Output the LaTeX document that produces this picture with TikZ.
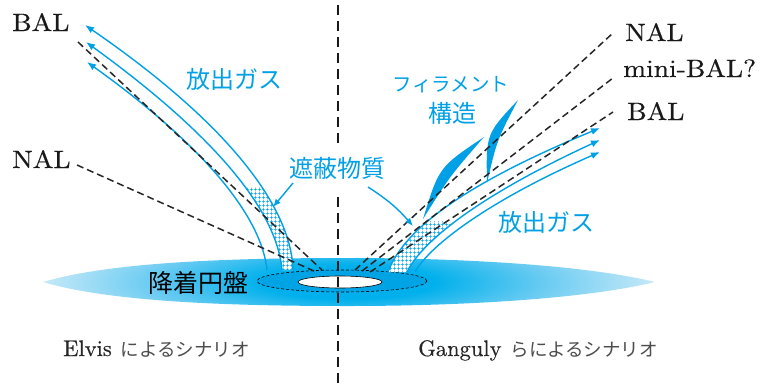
\documentclass[tikz,border=0pt]{standalone}
\usepackage{graphicx}
\usepackage{fontspec}
\newfontfamily\jp{Noto Sans CJK JP}
\newfontfamily\lmten[FakeBold=0.4]{lmroman10-regular.otf}
\usetikzlibrary{arrows.meta,patterns}

\definecolor{flowblue}{RGB}{0,160,230}
\definecolor{diskcore}{RGB}{0,176,236}
\definecolor{diskmid}{RGB}{105,203,242}
\definecolor{diskedge}{RGB}{198,233,248}
\definecolor{innerdisk}{RGB}{0,164,228}

% glow of the accretion disk, brightest near the centre
% (the path's bounding box is mapped onto the central 50bp square)
\pgfdeclareradialshading{diskglow}{\pgfpoint{0bp}{0bp}}{%
  color(0bp)=(diskcore); color(7bp)=(diskcore);
  color(16bp)=(diskmid); color(25bp)=(diskedge); color(50bp)=(diskedge)}

% square mesh for the absorbing material
\pgfdeclarepatternformonly{mesh}{\pgfpointorigin}{\pgfpoint{3.6pt}{3.6pt}}{\pgfpoint{3.6pt}{3.6pt}}{%
  \pgfsetlinewidth{0.55pt}%
  \pgfpathmoveto{\pgfpoint{0pt}{1.8pt}}\pgfpathlineto{\pgfpoint{3.6pt}{1.8pt}}%
  \pgfpathmoveto{\pgfpoint{1.8pt}{0pt}}\pgfpathlineto{\pgfpoint{1.8pt}{3.6pt}}%
  \pgfusepath{stroke}}

\begin{document}
\begin{tikzpicture}[x=1pt,y=-1pt,
  flow/.style={flowblue, line width=1.4pt, -{Latex[length=9pt,width=7pt]}},
  sight/.style={black!85, line width=1.5pt, dash pattern=on 7pt off 4pt},
  axisline/.style={black!90, line width=2.2pt, dash pattern=on 10pt off 6pt},
  pointer/.style={flowblue, line width=1.4pt, -{Latex[length=8pt,width=6.5pt]}},
  bluelabel/.style={text=flowblue, inner sep=0pt, font=\jp\fontsize{24}{28}\selectfont},
  sightlabel/.style={inner sep=0pt, anchor=base west, text=black!90,
    font=\lmten\fontsize{25}{30}\selectfont},
  caption/.style={inner sep=0pt, anchor=base west, text=black!85},
  meshband/.style={preaction={fill=white}, pattern=mesh, pattern color=flowblue}]

\useasboundingbox (0,0) rectangle (760,389);

% ---------- accretion disk ----------
\begin{scope}
  \clip (43,282) .. controls (110,262) and (230,258) .. (348,258)
        .. controls (470,258) and (590,266) .. (655,282)
        .. controls (590,298) and (470,306) .. (348,306)
        .. controls (230,306) and (110,302) .. (43,282) -- cycle;
  \shade[shading=diskglow] (348,282) ellipse [x radius=306pt, y radius=60pt];
\end{scope}
\filldraw[fill=innerdisk, draw=black, line width=0.6pt, dash pattern=on 3pt off 2pt]
  (342,281) ellipse [x radius=85pt, y radius=11pt];
\filldraw[fill=white, draw=black, line width=0.6pt]
  (340,282) ellipse [x radius=42pt, y radius=6pt];

% ---------- flow end points ----------
\coordinate (a1s) at (293,270); \coordinate (a1e) at (85,25);
\coordinate (a2s) at (282,270); \coordinate (a2e) at (86,42);
\coordinate (a3s) at (267,270); \coordinate (a3e) at (87,62);
\coordinate (c1s) at (388,272); \coordinate (c1e) at (600,128);
\coordinate (c2s) at (407,272); \coordinate (c2e) at (600,140);
\coordinate (c3s) at (415,272); \coordinate (c3e) at (600,152);

% ---------- absorbing material (meshed bands) ----------
\begin{scope}
  \clip (230,187) rectangle (320,273);
  \path[meshband] (a2s) .. controls (278,222) and (235,150) .. (a2e)
    -- (a1e) .. controls (252,140) and (292,222) .. (a1s) -- cycle;
\end{scope}
\begin{scope}
  \clip (380,221) rectangle (450,274);
  \path[meshband] (c1s) .. controls (402,235) and (450,190) .. (c1e)
    -- (c2e) .. controls (470,200) and (420,245) .. (c2s) -- cycle;
\end{scope}

% ---------- outflowing gas ----------
\draw[flow] (a1s) .. controls (292,222) and (252,140) .. (a1e);
\draw[flow] (a2s) .. controls (278,222) and (235,150) .. (a2e);
\draw[flow] (a3s) .. controls (262,220) and (210,150) .. (a3e);
\draw[flow] (c1s) .. controls (402,235) and (450,190) .. (c1e);
\draw[flow] (c2s) .. controls (420,245) and (470,200) .. (c2e);
\draw[flow] (c3s) .. controls (430,245) and (490,200) .. (c3e);

% ---------- filaments ----------
\coordinate (f1a) at (423,219); \coordinate (f1b) at (484,137);
\coordinate (f2a) at (487,183); \coordinate (f2b) at (518,100);
\fill[flowblue] (f1a) .. controls (439,167) .. (f1b)
  .. controls (450,176) .. (f1a) -- cycle;
\fill[flowblue] (f2a) .. controls (486,134) .. (f2b)
  .. controls (497,140) .. (f2a) -- cycle;

% ---------- lines of sight ----------
\coordinate (lbal) at (78,42);   \coordinate (lbalD) at (322,270);
\coordinate (lnal) at (77,165);  \coordinate (lnalD) at (314,271);
\coordinate (rnal) at (613,33);  \coordinate (rnalD) at (355,270);
\coordinate (rmini) at (613,78); \coordinate (rminiD) at (362,271);
\coordinate (rbal) at (613,112); \coordinate (rbalD) at (370,272);
\draw[sight] (lbal) -- (lbalD);
\draw[sight] (lnal) -- (lnalD);
\draw[sight] (rnalD) -- (rnal);
\draw[sight] (rminiD) -- (rmini);
\draw[sight] (rbalD) -- (rbal);

% ---------- symmetry axis ----------
\coordinate (axtop) at (338,5); \coordinate (axbot) at (338,389);
\draw[axisline] (axtop) -- (axbot);

% ---------- labels ----------
\node[sightlabel] (tBALl) at (12,31) {\scalebox{1.1}[1]{BAL}};
\node[sightlabel] (tNALl) at (12,168) {\scalebox{1.1}[1]{NAL}};
\node[sightlabel] (tNALr) at (625,41) {\scalebox{1.1}[1]{NAL}};
\node[sightlabel] (tMINI) at (623,77) {\scalebox{1.1}[1]{mini-BAL?}};
\node[sightlabel] (tBALr) at (627,120) {\scalebox{1.1}[1]{BAL}};

\node[bluelabel] (gasL) at (234,79) {放出ガス};
\node[bluelabel] (gasR) at (546,222) {放出ガス};
\node[bluelabel, font=\jp\fontsize{19.5}{24}\selectfont] (fil) at (451,85) {フィラメント};
\node[bluelabel] (struct) at (452,113) {構造};
\node[bluelabel, fill=white, inner xsep=4pt, inner ysep=12pt] (shield) at (337,168) {遮蔽物質};
\node[inner sep=0pt, font=\jp\fontsize{25}{30}\selectfont] (disk) at (198,283) {降着円盤};

\node[caption] (capL) at (63,356) {\lmten\fontsize{22.5}{27}\selectfont Elvis\hspace{9pt}{\jp\fontsize{18.5}{22}\selectfont\color{black!70}によるシナリオ}};
\node[caption] (capR) at (418,356) {\lmten\fontsize{22.5}{27}\selectfont Ganguly\hspace{9pt}{\jp\fontsize{18.5}{22}\selectfont\color{black!70}らによるシナリオ}};

% ---------- pointers to the absorbing material ----------
\coordinate (shL) at (293,183); \coordinate (shLt) at (273,207);
\coordinate (shR) at (368,187); \coordinate (shRt) at (413,226);
\draw[pointer] (shL) -- (shLt);
\draw[pointer] (shR) to[bend left=8] (shRt);
\end{tikzpicture}
\end{document}
